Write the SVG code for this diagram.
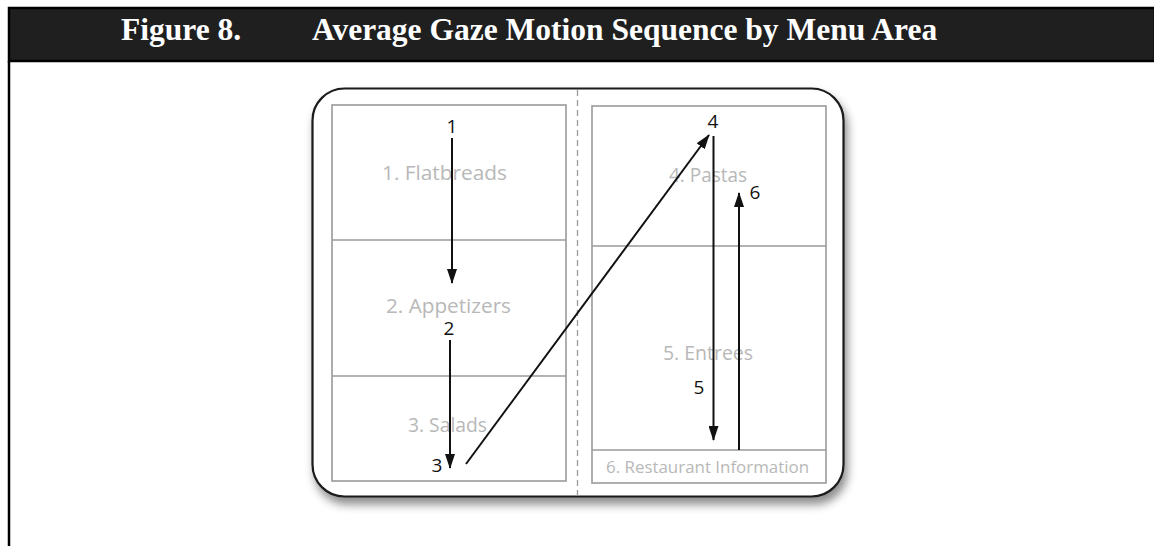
<svg xmlns="http://www.w3.org/2000/svg" width="1154" height="546" viewBox="0 0 1154 546">
<defs>
<style>
.title{font-family:"Liberation Serif","Times New Roman",serif;font-weight:bold;font-size:31.5px;fill:#ffffff}
.sec{font-family:"Open Sans","Noto Sans",sans-serif;font-size:20px;fill:#b8b8b8}
.num{font-family:"Open Sans","Noto Sans",sans-serif;font-size:19px;fill:#111;text-anchor:middle}
.panel{fill:none;stroke:#9a9a9a;stroke-width:1.6}
.arrow{stroke:#111;stroke-width:2;fill:none;marker-end:url(#ah)}
</style>
<marker id="ah" viewBox="0 0 15 10" refX="14" refY="5" markerWidth="15" markerHeight="10" markerUnits="userSpaceOnUse" orient="auto">
<path d="M0,0 L15,5 L0,10 Z" fill="#111"/>
</marker>
<filter id="sh" x="-10%" y="-10%" width="125%" height="130%">
<feDropShadow dx="3" dy="7" stdDeviation="5" flood-color="#000" flood-opacity="0.45"/>
</filter>
</defs>
<rect width="1154" height="546" fill="#fff"/>
<g id="header">
<rect x="9" y="8" width="1146" height="53" fill="#1f1f1f" stroke="#000" stroke-width="2.5"/>
<line x1="9" y1="61" x2="9" y2="546" stroke="#000" stroke-width="2.5"/>
<text class="title" x="121" y="40">Figure 8.</text>
<text class="title" x="312" y="40">Average Gaze Motion Sequence by Menu Area</text>
</g>
<g id="menu">
<rect x="312.5" y="88.5" width="531" height="408" rx="32" ry="32" fill="#fff" stroke="#1a1a1a" stroke-width="2.2" filter="url(#sh)"/>
<line x1="577.5" y1="90" x2="577.5" y2="496" stroke="#999" stroke-width="1.3" stroke-dasharray="6,4"/>
</g>
<g id="left-panel">
<rect class="panel" x="332" y="105" width="234" height="376"/>
<line class="panel" x1="332" y1="240" x2="566" y2="240"/>
<line class="panel" x1="332" y1="376" x2="566" y2="376"/>
</g>
<g id="right-panel">
<rect class="panel" x="592" y="106" width="234" height="377"/>
<line class="panel" x1="592" y1="246" x2="826" y2="246"/>
<line class="panel" x1="592" y1="450" x2="826" y2="450"/>
</g>
<g id="s1"><text class="sec" x="382" y="180" textLength="125" lengthAdjust="spacingAndGlyphs">1. Flatbreads</text></g>
<g id="s2"><text class="sec" x="386" y="313" textLength="125" lengthAdjust="spacingAndGlyphs">2. Appetizers</text></g>
<g id="s3"><text class="sec" x="408" y="432" textLength="79" lengthAdjust="spacingAndGlyphs">3. Salads</text></g>
<g id="s4"><text class="sec" x="669" y="182" textLength="78" lengthAdjust="spacingAndGlyphs">4. Pastas</text></g>
<g id="s5"><text class="sec" x="663" y="360" textLength="90" lengthAdjust="spacingAndGlyphs">5. Entrees</text></g>
<g id="s6"><text class="sec" x="606" y="473" textLength="203" lengthAdjust="spacingAndGlyphs" style="font-size:17px">6. Restaurant Information</text></g>
<g id="connectors">
<line class="arrow" x1="452" y1="138" x2="452" y2="283"/>
<line class="arrow" x1="450" y1="340" x2="450" y2="468"/>
<line class="arrow" x1="466" y1="464" x2="709" y2="135"/>
<line class="arrow" x1="713.5" y1="136" x2="713.5" y2="440"/>
<line class="arrow" x1="739" y1="450" x2="739" y2="193"/>
</g>
<g id="labels">
<text class="num" x="452" y="133">1</text>
<text class="num" x="449" y="335">2</text>
<text class="num" x="437" y="472">3</text>
<text class="num" x="713" y="128">4</text>
<text class="num" x="699" y="394">5</text>
<text class="num" x="755" y="199">6</text>
</g>
</svg>
